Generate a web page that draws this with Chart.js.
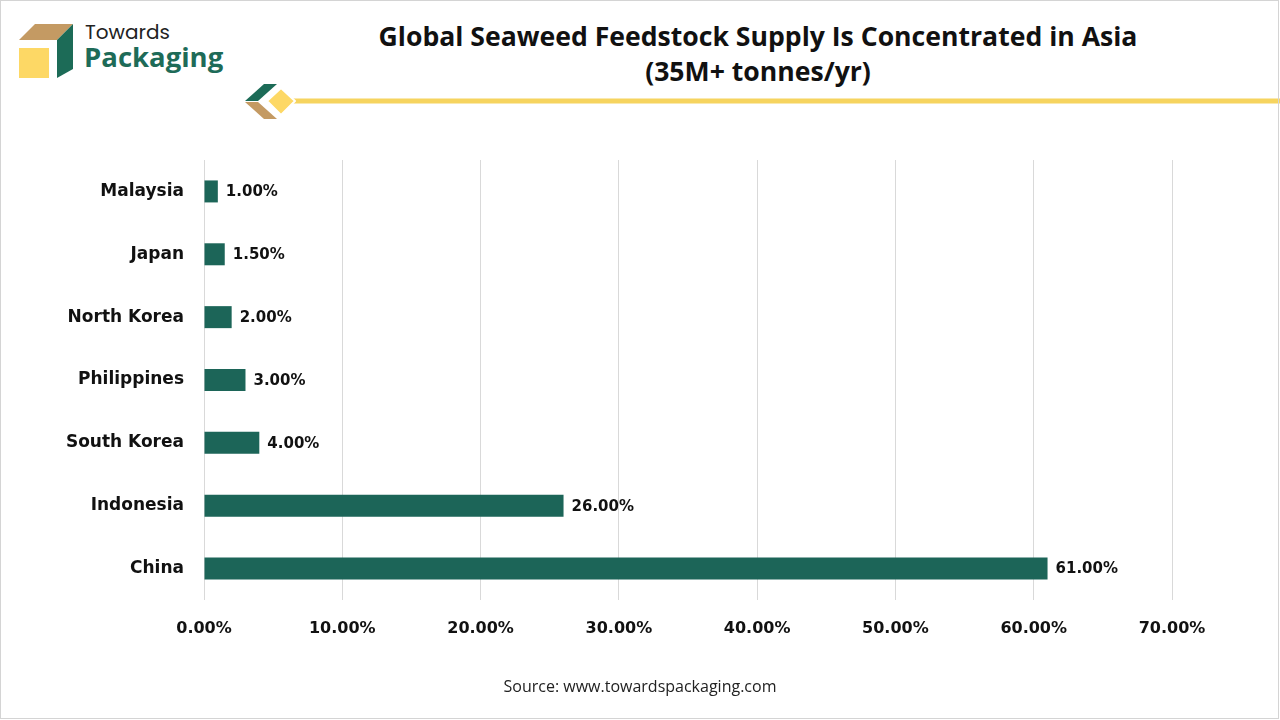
<!DOCTYPE html>
<html>
<head>
<meta charset="utf-8">
<script src="https://cdn.jsdelivr.net/npm/chart.js@4"></script>
<style>
  body { margin: 0; background: #fff; }
  #wrap { position: relative; width: 1280px; height: 720px; overflow: hidden; }
  #frame { position: absolute; left: 0; top: 0; width: 1277px; height: 717px; border: 1px solid #d4d4d4; pointer-events: none; }
  #title { position: absolute; left: 238px; width: 1040px; top: 19px; text-align: center;
           font-family: "Open Sans", sans-serif; font-weight: 700; font-size: 26.6px; line-height: 35px; color: #111; }
  #source { position: absolute; left: 0; width: 1280px; top: 675px; text-align: center;
            font-family: "Open Sans", sans-serif; font-size: 16px; color: #222; }
  #logo { position: absolute; left: 0; top: 0; }
  canvas { position: absolute; left: 0; top: 0; }
</style>
</head>
<body>
<div id="wrap">
  <svg id="logo" width="1280" height="130">
    <polygon points="35,24 73,24 57,40 19,40" fill="#c49a63"/>
    <polygon points="57,40 73,24 73,69 57,78" fill="#1c6b57"/>
    <rect x="19" y="48" width="30" height="30" fill="#fdd865"/>
    <text x="85" y="39" font-family="Poppins, 'Open Sans', sans-serif" font-size="20" fill="#222">Towards</text>
    <text x="84" y="67" font-family="'Open Sans', sans-serif" font-weight="700" font-size="27.5" fill="#1e6b58">Packaging</text>
    <polygon points="245,101 264,84 277,84 258,101" fill="#1c6b57"/>
    <polygon points="245,102 258,102 277,119 264,119" fill="#c49a63"/>
    <line x1="288" y1="101" x2="1280" y2="101" stroke="#f6d45f" stroke-width="5"/>
    <polygon points="281,88 295,101 281,115 267,101" fill="#fdd865" stroke="#fff" stroke-width="2" stroke-linejoin="round"/>
  </svg>
  <div id="title">Global Seaweed Feedstock Supply Is Concentrated in Asia<br>(35M+ tonnes/yr)</div>
  <canvas id="chart" width="1280" height="720"></canvas>
  <div id="source">Source: www.towardspackaging.com</div>
  <div id="frame"></div>
</div>
<script>
var countries = ["Malaysia", "Japan", "North Korea", "Philippines", "South Korea", "Indonesia", "China"]
var shares = [1.0, 1.5, 2.0, 3.0, 4.0, 26.0, 61.0]
var xTicks = [0, 10, 20, 30, 40, 50, 60, 70]

var barColor = "#1c6558"

// value labels drawn right after each bar
var valueLabels = {
    id: "valueLabels",
    afterDatasetsDraw: function (chart) {
        var ctx = chart.ctx
        var meta = chart.getDatasetMeta(0)
        ctx.save()
        ctx.font = "bold 15px 'DejaVu Sans'"
        ctx.fillStyle = "#111"
        ctx.textBaseline = "middle"
        ctx.textAlign = "left"
        meta.data.forEach(function (bar, i) {
            ctx.fillText(shares[i].toFixed(2) + "%", bar.x + 8, bar.y + 1)
        })
        ctx.restore()
    }
}

new Chart(document.getElementById("chart"), {
    type: "bar",
    data: {
        labels: countries,
        datasets: [{
            data: shares,
            backgroundColor: barColor,
            barPercentage: 0.35,
            categoryPercentage: 1.0
        }]
    },
    options: {
        indexAxis: "y",
        responsive: false,
        animation: false,
        events: [],
        layout: { padding: { top: 160, right: 108, left: 0, bottom: 0 } },
        plugins: { legend: { display: false }, tooltip: { enabled: false } },
        scales: {
            x: {
                min: 0,
                max: 70,
                afterBuildTicks: function (scale) {
                    scale.ticks = xTicks.map(function (v) { return { value: v } })
                },
                afterFit: function (scale) { scale.height = 120 },
                grid: { color: "#d9d9d9", drawTicks: false },
                border: { display: false },
                ticks: {
                    padding: 19,
                    color: "#111",
                    font: { family: "DejaVu Sans", weight: "bold", size: 16 },
                    callback: function (v) { return v.toFixed(2) + "%" }
                }
            },
            y: {
                afterFit: function (scale) { scale.width = 204 },
                grid: { display: false, drawTicks: false },
                border: { display: false },
                ticks: {
                    padding: 20,
                    color: "#111",
                    font: { family: "DejaVu Sans", weight: "bold", size: 17 }
                }
            }
        }
    },
    plugins: [valueLabels]
})
</script>
</body>
</html>
